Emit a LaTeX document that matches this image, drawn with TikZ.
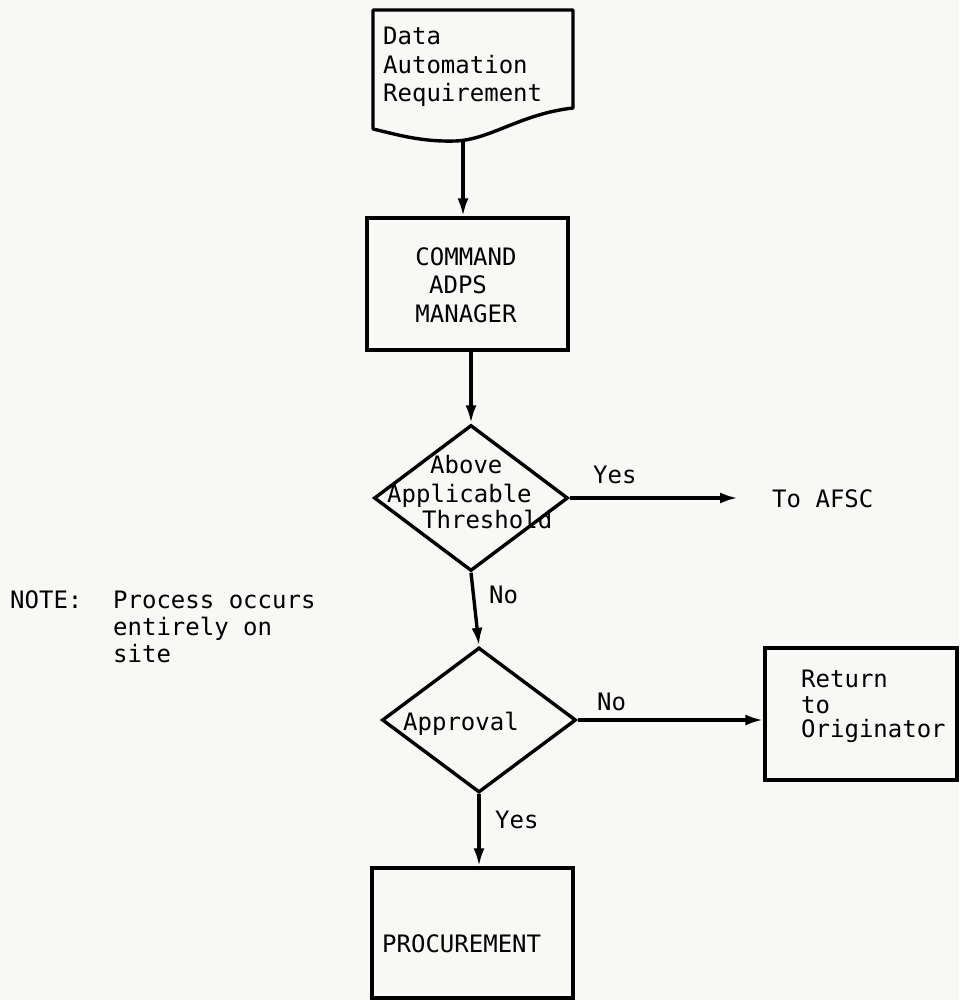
\documentclass[tikz,border=0pt]{standalone}
\usepackage{fontspec}
\newfontfamily\tw{DejaVu Sans Mono}
\usetikzlibrary{arrows.meta,shapes.geometric}
\definecolor{paper}{RGB}{248,248,246}
\begin{document}
\begin{tikzpicture}[x=1pt,y=-1pt,
  every node/.style={font=\tw\fontsize{24}{28}\selectfont, inner sep=0pt},
  line/.style={line width=3.4pt},
  arr/.style={line width=3.4pt, -{Latex[length=18pt,width=11pt]}},
  boxnode/.style={draw, line width=3.4pt, rectangle},
  decnode/.style={draw, line width=3.4pt, shape=diamond, inner sep=0pt},
  txt/.style={anchor=base west}
]
\fill[paper] (0,0) rectangle (959,1000);
\useasboundingbox (0,0) rectangle (959,1000);

% document shape
\draw[line, line join=round] (373,10) -- (573,10) -- (573,108)
   .. controls (520,114) and (490,140) .. (455,141)
   .. controls (420,142) and (395,134) .. (373,129) -- cycle;
\node[txt] (req1) at (383,45) {Data};
\node[txt] (req2) at (383,74) {Automation};
\node[txt] (req3) at (383,102) {Requirement};
\coordinate (reqbot) at (463,141);

% command box
\node[boxnode, minimum width=201pt, minimum height=132pt] (cmd) at (467.5,284) {};
\node[anchor=base] (c1) at (466,265) {COMMAND};
\node[anchor=base] (c2) at (458,293) {ADPS};
\node[anchor=base] (c3) at (466,322) {MANAGER};

% decision 1
\node[decnode, minimum width=194pt, minimum height=146pt] (d1) at (471,498) {};
\node[txt] (t1) at (430,473) {Above};
\node[txt] (t2) at (387,502) {Applicable};
\node[txt] (t3) at (422,528) {Threshold};
\node[txt] (yes1) at (593,483) {Yes};
\node[txt] (afsc) at (772,507) {To AFSC};
\coordinate (afsctip) at (738,498);

% decision 2
\node[decnode, minimum width=194pt, minimum height=145pt] (d2) at (479,720) {};
\node[txt] (t4) at (403,730) {Approval};
\node[txt] (no1) at (489,603) {No};
\node[txt] (no2) at (597,710) {No};

% note
\node[txt] (note) at (10,608) {NOTE:};
\node[txt] (n1) at (113,608) {Process occurs};
\node[txt] (n2) at (113,635) {entirely on};
\node[txt] (n3) at (113,662) {site};

% return box
\node[boxnode, minimum width=192pt, minimum height=132pt] (ret) at (861,714) {};
\node[txt] (r1) at (801,687) {Return};
\node[txt] (r2) at (801,713) {to};
\node[txt] (r3) at (801,737) {Originator};

% procurement
\node[boxnode, minimum width=201pt, minimum height=130pt] (proc) at (472.5,933) {};
\node[txt] (proctxt) at (382,952) {PROCUREMENT};
\node[txt] (yes2) at (495,828) {Yes};

% connectors
\draw[arr] (reqbot) -- (reqbot |- cmd.north);
\draw[arr] (cmd.south -| d1.north) -- (d1.north);
\draw[arr] (d1.east) -- (afsctip);
\draw[arr] (d1.south) -- (d2.north);
\draw[arr] (d2.east) -- (d2.east -| ret.west);
\draw[arr] (d2.south) -- (d2.south |- proc.north);
\end{tikzpicture}
\end{document}
